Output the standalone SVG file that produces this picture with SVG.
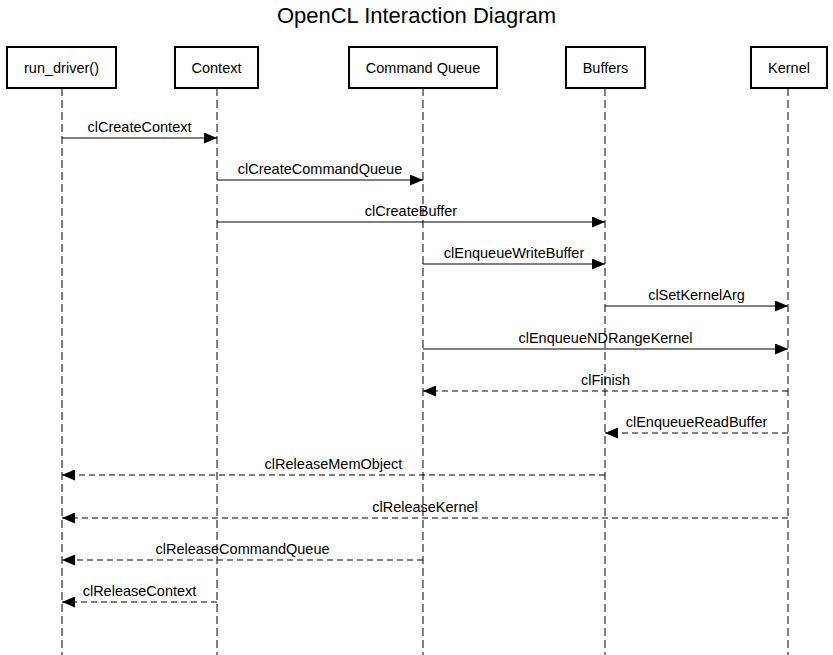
<svg xmlns="http://www.w3.org/2000/svg" width="833" height="655" viewBox="0 0 833 655">
<style>
text{font-family:"Liberation Sans",Arial,sans-serif;fill:#000}
.title{font-size:22px;text-anchor:middle}
.actor rect{fill:#fff;stroke:#000;stroke-width:2}
.actor text{font-size:14.5px;text-anchor:middle}
.life{stroke:#000;stroke-width:1;stroke-dasharray:8,4}
.msg{stroke:#000;stroke-width:1;fill:none;marker-end:url(#ah)}
.dash{stroke-dasharray:6,4}
.lbl{font-size:14.5px;text-anchor:middle}
</style>
<defs>
<marker id="ah" viewBox="0 0 13 11" refX="13" refY="5.5" markerWidth="13" markerHeight="11" markerUnits="userSpaceOnUse" orient="auto">
<path d="M0,0 L13,5.5 L0,11 z" fill="#000"/>
</marker>
</defs>
<rect width="833" height="655" fill="#fff"/>
<text class="title" x="416.5" y="23">OpenCL Interaction Diagram</text>
<g id="lifelines">
<line class="life" x1="62" y1="88" x2="62" y2="655"/>
<line class="life" x1="217" y1="88" x2="217" y2="655"/>
<line class="life" x1="423" y1="88" x2="423" y2="655"/>
<line class="life" x1="605" y1="88" x2="605" y2="655"/>
<line class="life" x1="788" y1="88" x2="788" y2="655"/>
</g>
<g id="run_driver" class="actor"><rect x="7" y="47" width="109" height="41"/><text x="61.5" y="73">run_driver()</text></g>
<g id="context" class="actor"><rect x="175" y="47" width="83" height="41"/><text x="216.5" y="73">Context</text></g>
<g id="command_queue" class="actor"><rect x="349" y="47" width="148" height="41"/><text x="423" y="73">Command Queue</text></g>
<g id="buffers" class="actor"><rect x="566" y="47" width="79" height="41"/><text x="605.5" y="73">Buffers</text></g>
<g id="kernel" class="actor"><rect x="751" y="47" width="76" height="41"/><text x="789" y="73">Kernel</text></g>
<g id="connectors">
<line class="msg" x1="62" y1="138" x2="217" y2="138"/>
<text class="lbl" x="139.5" y="132">clCreateContext</text>
<line class="msg" x1="217" y1="180" x2="423" y2="180"/>
<text class="lbl" x="320" y="174">clCreateCommandQueue</text>
<line class="msg" x1="217" y1="222" x2="605" y2="222"/>
<text class="lbl" x="411" y="216">clCreateBuffer</text>
<line class="msg" x1="423" y1="264" x2="605" y2="264"/>
<text class="lbl" x="514" y="258">clEnqueueWriteBuffer</text>
<line class="msg" x1="605" y1="306" x2="788" y2="306"/>
<text class="lbl" x="696.5" y="300">clSetKernelArg</text>
<line class="msg" x1="423" y1="349" x2="788" y2="349"/>
<text class="lbl" x="605.5" y="343">clEnqueueNDRangeKernel</text>
<line class="msg dash" x1="788" y1="391" x2="423" y2="391"/>
<text class="lbl" x="605.5" y="385">clFinish</text>
<line class="msg dash" x1="788" y1="433" x2="605" y2="433"/>
<text class="lbl" x="696.5" y="427">clEnqueueReadBuffer</text>
<line class="msg dash" x1="605" y1="475" x2="62" y2="475"/>
<text class="lbl" x="333.5" y="469">clReleaseMemObject</text>
<line class="msg dash" x1="788" y1="518" x2="62" y2="518"/>
<text class="lbl" x="425" y="512">clReleaseKernel</text>
<line class="msg dash" x1="423" y1="560" x2="62" y2="560"/>
<text class="lbl" x="242.5" y="554">clReleaseCommandQueue</text>
<line class="msg dash" x1="217" y1="602" x2="62" y2="602"/>
<text class="lbl" x="139.5" y="596">clReleaseContext</text>
</g>
</svg>
